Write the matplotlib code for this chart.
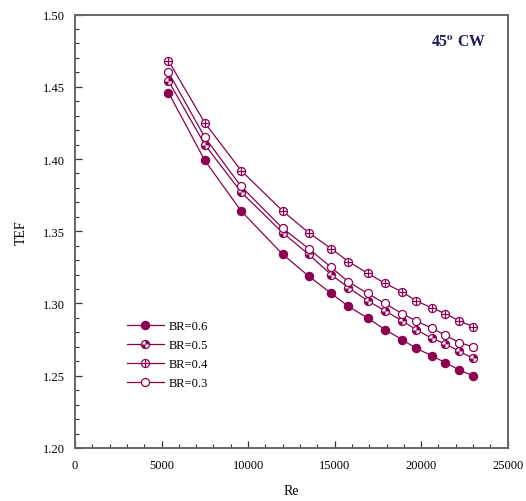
import matplotlib
matplotlib.use("Agg")
import matplotlib.pyplot as plt
from matplotlib.path import Path
from matplotlib.ticker import MultipleLocator

plt.rcParams['font.family'] = ['Liberation Serif', 'DejaVu Serif']
plt.rcParams['mathtext.fontset'] = 'stix'

re_vals = [5400, 7500, 9600, 12000, 13500, 14800, 15800, 16900, 17900,
           18900, 19700, 20600, 21400, 22200, 23000]
tef_br06 = [1.446, 1.399, 1.364, 1.334, 1.319, 1.307, 1.298, 1.290, 1.282,
            1.275, 1.269, 1.264, 1.259, 1.254, 1.250]
tef_br05 = [1.454, 1.410, 1.377, 1.349, 1.334, 1.320, 1.311, 1.302, 1.295,
            1.288, 1.282, 1.276, 1.272, 1.267, 1.262]
tef_br04 = [1.468, 1.425, 1.392, 1.364, 1.349, 1.338, 1.329, 1.321, 1.314,
            1.308, 1.302, 1.297, 1.293, 1.288, 1.284]
tef_br03 = [1.460, 1.415, 1.381, 1.352, 1.338, 1.325, 1.315, 1.307, 1.300,
            1.293, 1.288, 1.283, 1.278, 1.273, 1.270]
labels = ["BR=0.6", "BR=0.5", "BR=0.4", "BR=0.3"]
x_ticks = [0, 5000, 10000, 15000, 20000, 25000]
y_ticks = [1.20, 1.25, 1.30, 1.35, 1.40, 1.45, 1.50]

col = '#8c0050'
ms = 5.8
lw = 0.9

fig = plt.figure(figsize=(5.26, 5.02), dpi=100)
ax = fig.add_axes([0.1426, 0.1056, 0.8226, 0.8635])

quad = Path.make_compound_path(Path.wedge(0, 90), Path.wedge(180, 270))

# BR=0.6 filled
h06, = ax.plot(re_vals, tef_br06, '-o', color=col, lw=lw, ms=ms, mfc=col, mec=col)
# BR=0.5 quadrant-filled
h05a, = ax.plot(re_vals, tef_br05, '-o', color=col, lw=lw, ms=ms, mfc='white', mec=col, mew=0.9)
h05b, = ax.plot(re_vals, tef_br05, ls='none', marker=quad, ms=ms, mfc=col, mec='none')
# BR=0.4 crossed circle
h04a, = ax.plot(re_vals, tef_br04, '-o', color=col, lw=lw, ms=ms, mfc='white', mec=col, mew=0.9)
h04b, = ax.plot(re_vals, tef_br04, ls='none', marker='+', ms=ms, mec=col, mew=0.9)
# BR=0.3 open
h03, = ax.plot(re_vals, tef_br03, '-o', color=col, lw=lw, ms=ms, mfc='white', mec=col, mew=0.9)

ax.set_xlim(0, 25000)
ax.set_ylim(1.20, 1.50)
ax.set_xticks(x_ticks)
ax.set_yticks(y_ticks)
ax.set_yticklabels([f"{v:.2f}" for v in y_ticks])
ax.xaxis.set_minor_locator(MultipleLocator(1000))
ax.yaxis.set_minor_locator(MultipleLocator(0.01))
ax.tick_params(which='both', direction='in', color='#333333', labelsize=9)
ax.tick_params(which='major', length=5, width=0.9)
ax.tick_params(which='minor', length=3, width=0.8)
ax.tick_params(axis='x', pad=8)
ax.tick_params(axis='y', pad=7)
for s in ax.spines.values():
    s.set_color('#666666')
    s.set_linewidth(1.4)

ax.set_xlabel("Re", fontsize=10, labelpad=9)
ax.set_ylabel("TEF", fontsize=10, labelpad=11)

ax.text(0.887, 0.937, r"45$^{\mathbf{o}}$ CW", transform=ax.transAxes,
        ha='center', va='center', fontsize=11.3, fontweight='bold', color='#1c1c5c')

leg = ax.legend([h06, (h05a, h05b), (h04a, h04b), h03], labels,
                loc='upper left', bbox_to_anchor=(0.095, 0.321),
                frameon=False, fontsize=9, handlelength=2.9,
                handletextpad=0.4, labelspacing=0.56)

fig.savefig("out.png", dpi=100)
